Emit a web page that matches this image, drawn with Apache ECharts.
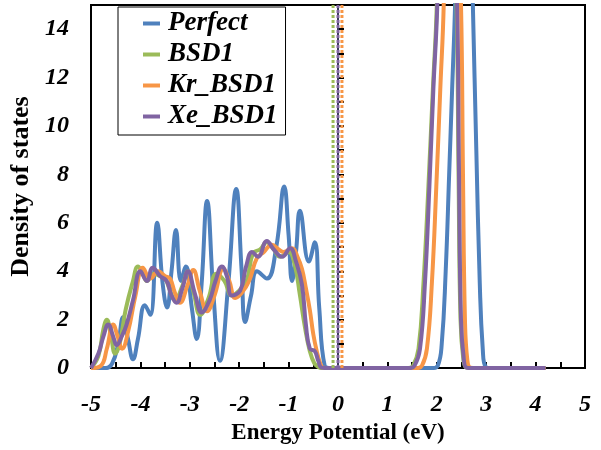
<!DOCTYPE html>
<html>
<head>
<meta charset="utf-8">
<script src="https://cdn.jsdelivr.net/npm/echarts@6/dist/echarts.min.js"></script>
<style>html,body{margin:0;padding:0;background:#fff;}#c{width:601px;height:450px;}</style>
</head>
<body>
<div id="c"></div>
<script>
var seriesNames = ['Perfect', 'BSD1', 'Kr_BSD1', 'Xe_BSD1'];
var xTicks = [-5, -4, -3, -2, -1, 0, 1, 2, 3, 4, 5];
var yTicks = [0, 2, 4, 6, 8, 10, 12, 14];

var perfectX = [-5, -4.7, -4.57, -4.45, -4.35, -4.25, -4.15, -4.05, -3.91, -3.8, -3.66, -3.55, -3.46, -3.37, -3.28, -3.18, -3.08, -2.96, -2.86, -2.76, -2.65, -2.52, -2.39, -2.22, -2.06, -1.95, -1.88, -1.76, -1.64, -1.44, -1.25, -1.09, -1.0, -0.93, -0.85, -0.77, -0.59, -0.47, -0.38, -0.27, -0.15, 0, 1.0, 1.9, 2.02, 2.1, 2.18, 2.25, 2.31, 2.37, 2.55, 2.73, 2.8, 2.87, 2.93, 2.99, 3.1, 3.5, 4.2];
var perfectY = [0, 0, 0.2, 1.0, 2.1, 1.2, 0.37, 1.2, 2.6, 2.2, 6.0, 3.5, 2.5, 4.0, 5.7, 3.6, 4.2, 2.5, 1.2, 3.5, 6.9, 3.0, 0.3, 3.5, 7.4, 4.0, 1.9, 3.0, 4.0, 3.7, 5.0, 7.5, 5.5, 3.6, 4.8, 6.5, 4.4, 5.2, 2.5, 0.1, 0, 0, 0, 0, 0.1, 1, 4, 8, 11.5, 15, 30, 15, 9, 3.5, 0.8, 0.05, 0, 0, 0];

var bsd1X = [-5, -4.85, -4.75, -4.68, -4.6, -4.51, -4.42, -4.3, -4.15, -4.05, -3.95, -3.87, -3.73, -3.6, -3.5, -3.4, -3.3, -3.15, -3.04, -2.92, -2.79, -2.62, -2.46, -2.3, -2.15, -2.0, -1.85, -1.72, -1.58, -1.44, -1.3, -1.17, -1.0, -0.88, -0.77, -0.67, -0.57, -0.48, -0.4, -0.34, -0.2, 0, 1.0, 1.42, 1.52, 1.63, 1.73, 1.83, 1.92, 2.0, 2.2, 2.4, 2.44, 2.48, 2.54, 2.6, 2.7, 3.2, 4.2];
var bsd1Y = [0, 0.5, 1.6, 2.0, 1.4, 0.6, 1.0, 2.4, 3.6, 4.2, 3.9, 3.6, 3.9, 3.8, 3.7, 3.2, 2.8, 3.4, 4.0, 3.1, 2.2, 2.9, 3.9, 3.6, 3.0, 3.2, 3.6, 4.75, 4.9, 5.2, 4.9, 4.6, 4.8, 4.3, 3.0, 1.7, 0.7, 0.2, 0.05, 0, 0, 0, 0, 0, 0.1, 0.8, 3.5, 7.5, 11.5, 15, 30, 15, 8, 2, 0.3, 0.02, 0, 0, 0];

var krX = [-5, -4.8, -4.68, -4.55, -4.46, -4.37, -4.25, -4.1, -3.95, -3.8, -3.64, -3.5, -3.4, -3.3, -3.2, -3.05, -2.93, -2.8, -2.65, -2.5, -2.32, -2.2, -2.08, -1.95, -1.8, -1.64, -1.5, -1.34, -1.2, -1.1, -0.93, -0.82, -0.73, -0.65, -0.57, -0.5, -0.43, -0.36, -0.3, -0.18, 0, 1.0, 1.6, 1.7, 1.8, 1.9, 1.99, 2.07, 2.14, 2.3, 2.49, 2.53, 2.57, 2.62, 2.68, 2.8, 3.3, 4.2];
var krY = [0, 0.1, 0.8, 1.8, 1.3, 0.8, 1.5, 3.0, 4.15, 3.7, 4.0, 3.8, 3.7, 3.1, 2.7, 3.4, 4.05, 3.2, 2.35, 3.0, 4.1, 3.6, 2.9, 3.1, 3.6, 4.55, 4.8, 5.1, 4.9, 4.8, 4.95, 4.6, 4.1, 3.3, 2.4, 1.4, 0.7, 0.2, 0.02, 0, 0, 0, 0, 0.1, 0.8, 3.5, 7.5, 11.5, 15, 30, 15, 8, 2, 0.3, 0.02, 0, 0, 0];

var xeX = [-5, -4.85, -4.75, -4.65, -4.55, -4.48, -4.38, -4.28, -4.15, -4.0, -3.87, -3.75, -3.6, -3.47, -3.37, -3.27, -3.15, -3.04, -2.9, -2.76, -2.6, -2.48, -2.35, -2.25, -2.15, -1.98, -1.86, -1.74, -1.62, -1.44, -1.3, -1.13, -0.97, -0.85, -0.73, -0.65, -0.57, -0.47, -0.4, -0.33, -0.2, 0, 1.0, 1.45, 1.55, 1.66, 1.76, 1.85, 1.93, 2.01, 2.2, 2.41, 2.45, 2.49, 2.55, 2.6, 2.7, 3.2, 4.2];
var xeY = [0, 0.6, 1.3, 1.8, 1.3, 0.95, 1.3, 1.8, 2.8, 4.0, 3.6, 4.15, 3.8, 3.6, 3.0, 2.7, 3.3, 4.0, 3.1, 2.3, 2.8, 3.6, 4.2, 3.8, 3.0, 3.2, 4.2, 4.8, 4.6, 5.25, 4.9, 4.6, 4.95, 4.4, 3.45, 1.8, 0.8, 0.7, 0.3, 0.02, 0, 0, 0, 0, 0.1, 0.8, 3.5, 7.5, 11.5, 15, 30, 15, 8, 2, 0.3, 0.02, 0, 0, 0];

var fermiBSD1 = -0.1;
var fermiXe = 0.0;
var fermiKr = 0.08;

var colors = ['#4F81BD', '#9BBB59', '#F79646', '#8064A2'];
var serif = '"Liberation Serif", "Times New Roman", serif';

function zip(xs, ys) { return xs.map(function (x, i) { return [x, ys[i]]; }); }

function curve(name, xs, ys, color) {
  return {
    name: name, type: 'line', data: zip(xs, ys), showSymbol: false, symbol: 'none',
    smooth: 0.45, clip: true,
    lineStyle: { color: color, width: 4 }, itemStyle: { color: color }, z: 3
  };
}
function vline(xv, color, type, width, z) {
  return {
    type: 'line', data: [[xv, 0], [xv, 15]], showSymbol: false, symbol: 'none', silent: true,
    lineStyle: { color: color, width: width, type: type }, z: z
  };
}

var chart = echarts.init(document.getElementById('c'), null, { renderer: 'canvas' });
chart.setOption({
  animation: false,
  backgroundColor: '#fff',
  grid: { left: 91, top: 5, right: 16, bottom: 79, show: true, borderColor: '#000', borderWidth: 2, backgroundColor: 'transparent' },
  legend: {
    data: seriesNames, orient: 'vertical', left: 118, top: 7,
    padding: [3, 8, 5, 25], itemGap: 4, itemWidth: 17, itemHeight: 4, icon: 'rect',
    borderColor: '#000', borderWidth: 1, backgroundColor: '#fff',
    textStyle: { fontFamily: serif, fontSize: 27, fontWeight: 'bold', fontStyle: 'italic', color: '#000', padding: [0, 0, 0, 3] }
  },
  xAxis: {
    type: 'value', min: xTicks[0], max: xTicks[xTicks.length - 1], interval: 1,
    name: 'Energy Potential (eV)', nameLocation: 'middle', nameGap: 52,
    nameTextStyle: { fontFamily: serif, fontSize: 23, fontWeight: 'bold', color: '#000' },
    axisLine: { show: true, lineStyle: { color: '#000', width: 2 } },
    axisTick: { show: true, inside: true, length: 6, lineStyle: { color: '#000', width: 2 } },
    minorTick: { show: true, splitNumber: 2, length: 6, lineStyle: { color: '#000', width: 2 } },
    axisLabel: { margin: 25, fontFamily: serif, fontSize: 24, fontWeight: 'bold', fontStyle: 'italic', color: '#000' },
    splitLine: { show: false }
  },
  yAxis: {
    type: 'value', min: yTicks[0], max: 15, interval: 2,
    name: 'Density of states', nameLocation: 'middle', nameGap: 48,
    nameTextStyle: { fontFamily: serif, fontSize: 26, fontWeight: 'bold', color: '#000' },
    axisLine: { show: true, lineStyle: { color: '#000', width: 2 } },
    axisTick: { show: true, inside: true, length: 6, lineStyle: { color: '#000', width: 2 } },
    minorTick: { show: true, splitNumber: 2, length: 6, lineStyle: { color: '#000', width: 2 } },
    axisLabel: { margin: 22, showMaxLabel: false, fontFamily: serif, fontSize: 24, fontWeight: 'bold', fontStyle: 'italic', color: '#000' },
    splitLine: { show: false }
  },
  series: [
    curve(seriesNames[0], perfectX, perfectY, colors[0]),
    curve(seriesNames[1], bsd1X, bsd1Y, colors[1]),
    curve(seriesNames[2], krX, krY, colors[2]),
    curve(seriesNames[3], xeX, xeY, colors[3]),
    vline(fermiBSD1, colors[1], [3, 2], 3, 4),
    vline(fermiKr, colors[2], [3, 2], 3, 4),
    vline(fermiXe, '#3b3f5c', 'solid', 2, 4),
    vline(fermiXe, colors[3], [3, 2], 3, 5)
  ]
});
</script>
</body>
</html>
